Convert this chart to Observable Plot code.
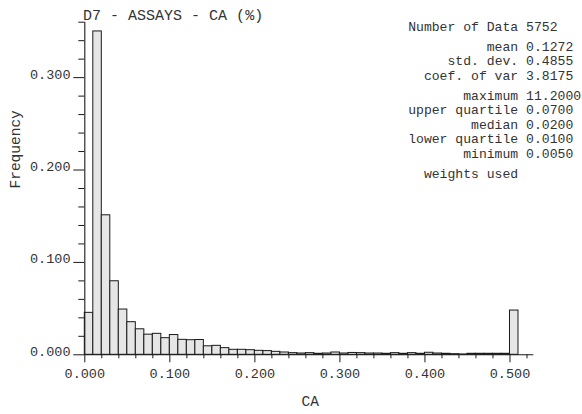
<!DOCTYPE html>
<html>
<head>
<meta charset="utf-8">
<script src="https://cdn.jsdelivr.net/npm/d3@7"></script>
<script src="https://cdn.jsdelivr.net/npm/@observablehq/plot@0.6"></script>
<style>
html, body { margin: 0; padding: 0; background: #fff; }
</style>
</head>
<body>
<div id="chart"></div>
<script>
// ---- data ----
const title = "D7 - ASSAYS - CA (%)";
const xLabel = "CA";
const yLabel = "Frequency";
const binWidth = 0.01;
// frequency per class, classes 0.00-0.01, 0.01-0.02, ..., 0.50-0.51
const frequencies = [
  0.0454, 0.3500, 0.1510, 0.0796, 0.0490, 0.0353, 0.0276, 0.0218, 0.0227, 0.0180,
  0.0214, 0.0162, 0.0158, 0.0160, 0.0092, 0.0097, 0.0072, 0.0054, 0.0054, 0.0050,
  0.0043, 0.0040, 0.0032, 0.0025, 0.0018, 0.0014, 0.0018, 0.0011, 0.0014, 0.0025,
  0.0014, 0.0020, 0.0018, 0.0014, 0.0014, 0.0011, 0.0018, 0.0011, 0.0018, 0.0011,
  0.0022, 0.0014, 0.0011, 0.0007, 0.0004, 0.0011, 0.0011, 0.0011, 0.0011, 0.0011,
  0.0479
];
const xMajorTicks = [0, 0.1, 0.2, 0.3, 0.4, 0.5];
const xMinorTicks = [0.02, 0.04, 0.06, 0.08, 0.12, 0.14, 0.16, 0.18, 0.22, 0.24, 0.26, 0.28,
  0.32, 0.34, 0.36, 0.38, 0.42, 0.44, 0.46, 0.48, 0.52];
const yMajorTicks = [0, 0.1, 0.2, 0.3];
const yMinorTicks = [0.02, 0.04, 0.06, 0.08, 0.12, 0.14, 0.16, 0.18, 0.22, 0.24, 0.26, 0.28,
  0.32, 0.34, 0.36];
const statLabels = ["Number of Data", "mean", "std. dev.", "coef. of var", "maximum",
  "upper quartile", "median", "lower quartile", "minimum", "weights used"];
const statValues = ["5752", "0.1272", "0.4855", "3.8175", "11.2000",
  "0.0700", "0.0200", "0.0100", "0.0050", ""];
const statGroups = [0, 1, 1, 1, 2, 2, 2, 2, 2, 3];

// ---- layout ----
const W = 582, H = 414;
const mL = 84.3, mR = 48.7, mT = 21.7, mB = 59.7;
const mono = "'Liberation Mono', 'DejaVu Sans Mono', monospace";
const ink = "#1a1a1a";
const textInk = "#333";
const fmt = d3.format(".3f");

const bars = frequencies.map((f, i) => ({x1: i * binWidth, x2: (i + 1) * binWidth, f}));

const statMarks = [];
statLabels.forEach((lab, i) => {
  const base = 30.2 + i * 14.6 + statGroups[i] * 5.2;
  statMarks.push(Plot.text([lab], {
    frameAnchor: "top-left", dx: 517.7 - mL, dy: base - mT,
    text: d => d, textAnchor: "end", lineAnchor: "bottom",
    fontFamily: mono, fontSize: 13.1, fill: textInk
  }));
  if (statValues[i]) statMarks.push(Plot.text([statValues[i]], {
    frameAnchor: "top-left", dx: 525.6 - mL, dy: base - mT,
    text: d => d, textAnchor: "start", lineAnchor: "bottom",
    fontFamily: mono, fontSize: 13.1, fill: textInk
  }));
});

const chart = Plot.plot({
  width: W, height: H,
  marginLeft: mL, marginRight: mR, marginTop: mT, marginBottom: mB,
  style: {fontFamily: mono, fontSize: "13.5px", color: ink, background: "#fff"},
  x: {domain: [0, 0.528], axis: null},
  y: {domain: [0, 0.36], axis: null},
  marks: [
    Plot.rect(bars, {x1: "x1", x2: "x2", y1: 0, y2: "f", fill: "#e6e6e6", stroke: ink, strokeWidth: 1}),
    Plot.ruleY([0], {stroke: ink, strokeWidth: 1.1}),
    Plot.ruleX([0], {stroke: ink, strokeWidth: 1.1}),
    Plot.axisX(xMajorTicks, {tickSize: 8, tickFormat: () => "", label: null, stroke: ink}),
    Plot.axisX(xMinorTicks, {tickSize: 4, tickFormat: () => "", label: null, stroke: ink}),
    Plot.axisY(yMajorTicks, {tickSize: 11, tickFormat: () => "", label: null, stroke: ink}),
    Plot.axisY(yMinorTicks, {tickSize: 6, tickFormat: () => "", label: null, stroke: ink}),
    Plot.text(xMajorTicks, {x: d => d, frameAnchor: "bottom", dy: 22.7, lineAnchor: "bottom",
      textAnchor: "middle", text: d => fmt(d), fontSize: 13.5, fill: textInk}),
    Plot.text(yMajorTicks, {y: d => d, frameAnchor: "left", dx: -14.3, dy: 1, lineAnchor: "bottom",
      textAnchor: "end", text: d => fmt(d), fontSize: 13.5, fill: textInk}),
    Plot.text([title], {frameAnchor: "top-left", dx: -1.7, dy: -2.4, textAnchor: "start",
      lineAnchor: "bottom", text: d => d, fontSize: 15, fill: textInk}),
    Plot.text([xLabel], {frameAnchor: "bottom", dx: 1, dy: 50.7, lineAnchor: "bottom",
      text: d => d, fontSize: 14.5, fill: textInk}),
    Plot.text([yLabel], {frameAnchor: "left", dx: 14.4 - mL, rotate: -90,
      text: d => d, fontSize: 14.5, fill: textInk}),
    ...statMarks
  ]
});
document.getElementById("chart").appendChild(chart);
</script>
</body>
</html>
